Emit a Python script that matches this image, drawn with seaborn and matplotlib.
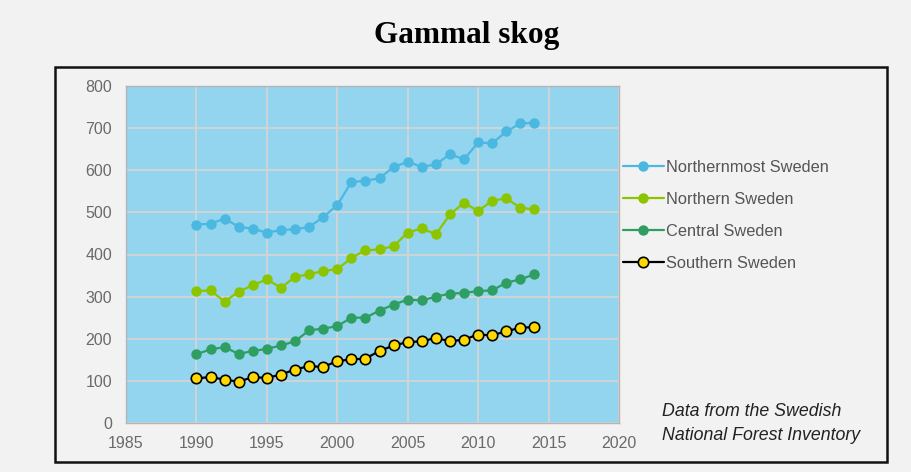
"""Gammal skog - old forest area by region in Sweden"""
import numpy as np
import pandas as pd
import matplotlib
matplotlib.use("Agg")
import matplotlib.pyplot as plt
from matplotlib.patches import Rectangle
import seaborn as sns

# Data
years = list(range(1990, 2015))
northernmost = [471, 473, 485, 466, 461, 452, 458, 460, 465, 489, 517, 572, 575,
                581, 608, 620, 608, 614, 638, 626, 666, 664, 692, 711, 713]
northern = [313, 315, 288, 312, 327, 341, 321, 347, 353, 361, 365, 392, 410,
            412, 420, 452, 462, 448, 495, 523, 503, 528, 533, 511, 507]
central = [163, 175, 180, 164, 171, 176, 184, 194, 220, 224, 230, 250, 250,
           267, 281, 293, 291, 300, 307, 309, 313, 315, 333, 341, 353]
southern = [106, 109, 103, 98, 109, 107, 115, 127, 135, 133, 147, 151, 153,
            171, 184, 192, 194, 202, 194, 198, 210, 208, 218, 226, 228]
labels = ["Northernmost Sweden", "Northern Sweden", "Central Sweden", "Southern Sweden"]

sns.set_style("white")
plt.rcParams["font.family"] = ["Liberation Sans", "DejaVu Sans"]

fig = plt.figure(figsize=(9.12, 4.72), dpi=100, facecolor="#f2f2f2")
ax = fig.add_axes([126 / 912, 49 / 472, 493 / 912, 337 / 472])
ax.set_facecolor("#93d5ee")

# Outer frame around the plot area
fig.patches.append(Rectangle((55 / 912, 10 / 472), 832 / 912, 395 / 472,
                             transform=fig.transFigure, fill=False,
                             edgecolor="#111111", linewidth=1.8, zorder=0))

series = [northernmost, northern, central, southern]
line_colors = ["#4ab8e0", "#8cc400", "#2e9e62", "#000000"]
face_colors = ["#4ab8e0", "#8cc400", "#2e9e62", "#ffd800"]

for vals, lab, lc, fc in zip(series, labels, line_colors, face_colors):
    df = pd.DataFrame({"year": years, "value": vals})
    sns.lineplot(data=df, x="year", y="value", ax=ax, color=lc, linewidth=1.6,
                 marker="o", markersize=7.5, markerfacecolor=fc,
                 markeredgecolor=lc, markeredgewidth=1.2 if lc == "#000000" else 0,
                 label=lab)

ax.set_xlim(1985, 2020)
ax.set_ylim(0, 800)
ax.set_xticks(np.arange(1985, 2021, 5))
ax.set_yticks(np.arange(0, 801, 100))
ax.set_xlabel("")
ax.set_ylabel("")
ax.grid(True, color="#d4d4d4", linewidth=1.3)
ax.set_axisbelow(True)
for sp in ax.spines.values():
    sp.set_color("#b5b5b5")
    sp.set_linewidth(1.0)
ax.tick_params(axis="both", length=0, labelsize=11.5, labelcolor="#6a6a6a")
ax.tick_params(axis="y", pad=10)
ax.tick_params(axis="x", pad=9)

leg = ax.legend(loc="center left", bbox_to_anchor=(1.008, 0.616), frameon=False,
                borderpad=0, borderaxespad=0, handlelength=2.5, handletextpad=0.1,
                labelspacing=1.05, fontsize=11.8)
for t in leg.get_texts():
    t.set_color("#555555")

fig.text(0.512, 0.924, "Gammal skog", ha="center", va="center", color="black",
         fontsize=22.5, fontweight="bold", family=["Liberation Serif"])
fig.text(662 / 912, 1 - 412 / 472, "Data from the Swedish", ha="left", va="center",
         fontsize=12.8, style="italic", color="#222222")
fig.text(662 / 912, 1 - 436 / 472, "National Forest Inventory", ha="left", va="center",
         fontsize=12.8, style="italic", color="#222222")

fig.savefig("out.png", dpi=100, facecolor=fig.get_facecolor())
